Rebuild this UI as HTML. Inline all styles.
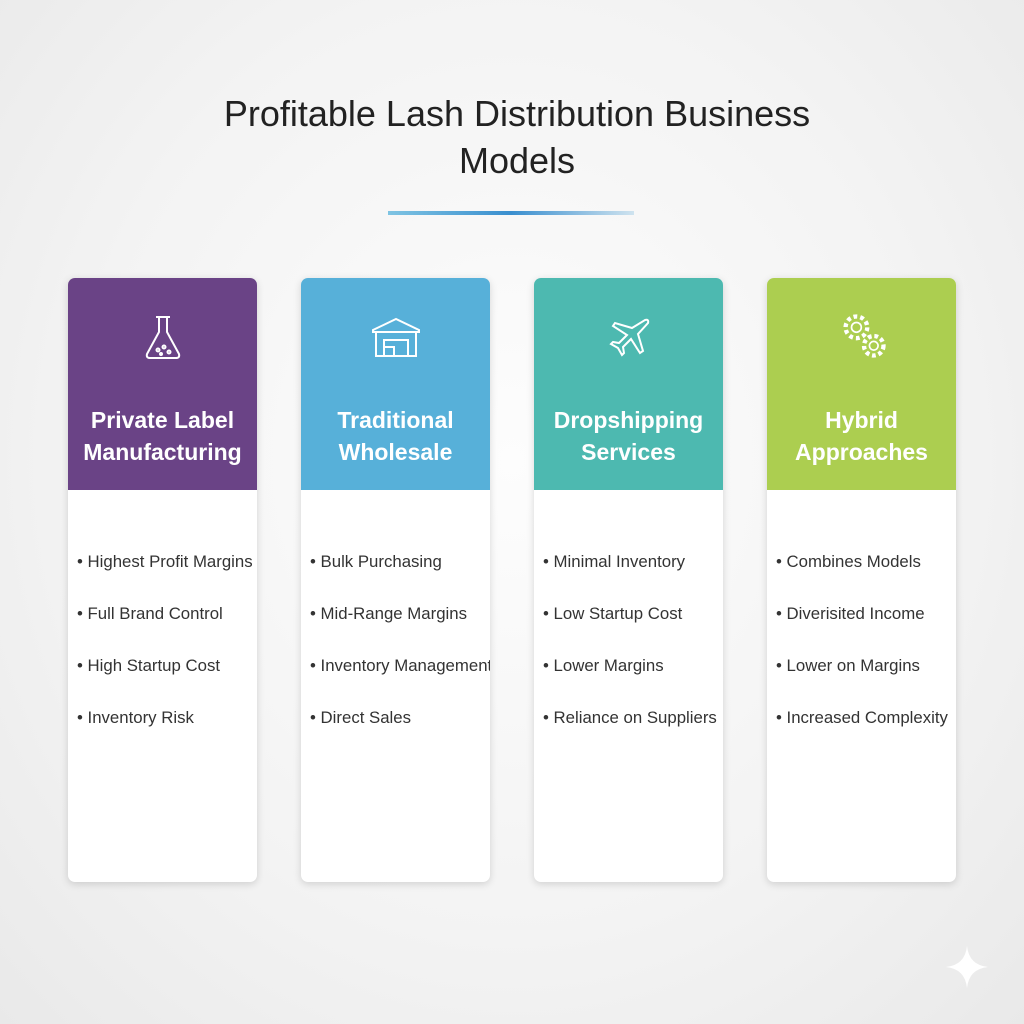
<!DOCTYPE html>
<html><head><meta charset="utf-8"><style>
body{margin:0;width:1024px;height:1024px;background:radial-gradient(ellipse at 50% 45%,#fdfdfd 0%,#f3f3f3 60%,#e9e9e9 100%);font-family:"Liberation Sans","DejaVu Sans",sans-serif;position:relative;overflow:hidden}
h1{position:absolute;top:90px;left:0;width:1034px;margin:0;text-align:center;font-weight:normal;font-size:36px;line-height:47px;color:#222}
.line{position:absolute;top:211px;left:388px;width:246px;height:4px;background:linear-gradient(90deg,#7fc4e3,#3a8fcf 50%,#cfe3ef)}
.card{position:absolute;top:278px;width:189px;height:604px;background:#fff;border-radius:7px;box-shadow:0 2px 8px rgba(0,0,0,.15);overflow:hidden}
.hd{height:212px;position:relative;color:#fff}
.hd svg{position:absolute;left:50%;top:36px;margin-left:-24px}
.hd .t{position:absolute;top:126px;width:100%;text-align:center;font-size:23px;line-height:32px;font-weight:bold}
ul{list-style:none;margin:0;padding:0;position:absolute;top:273px;left:9px;white-space:nowrap}
li{font-size:16.8px;color:#333;height:52px;line-height:22px}
li:before{content:"• ";}
</style></head><body>
<h1>Profitable Lash Distribution Business<br>Models</h1>
<div class="line"></div>

<div class="card" style="left:68px"><div class="hd" style="background:#6a4386">
<svg width="48" height="48" viewBox="0 0 48 48" fill="none" stroke="#fff" stroke-width="2"><path d="M17 3h14M20 3v15L8 40q-1 4 3 4h26q4 0 3-4L28 18V3"/><circle cx="19" cy="36" r="1.5"/><circle cx="25" cy="33" r="1.5"/><circle cx="30" cy="38" r="1.5"/><circle cx="22" cy="40" r="1"/></svg>
<div class="t">Private Label<br>Manufacturing</div></div>
<ul><li>Highest Profit Margins</li><li>Full Brand Control</li><li>High Startup Cost</li><li>Inventory Risk</li></ul></div>

<div class="card" style="left:301px"><div class="hd" style="background:#57b0d9">
<svg width="48" height="48" viewBox="0 0 48 48" fill="none" stroke="#fff" stroke-width="2"><path d="M1 16L24 5l23 11v2H1z"/><path d="M4 18v24h40V18M12 42V26h24v16M12 33h10v9"/></svg>
<div class="t">Traditional<br>Wholesale</div></div>
<ul><li>Bulk Purchasing</li><li>Mid-Range Margins</li><li>Inventory Management</li><li>Direct Sales</li></ul></div>

<div class="card" style="left:534px"><div class="hd" style="background:#4db9b0">
<svg width="48" height="48" viewBox="0 0 48 48" fill="none" stroke="#fff" stroke-width="2"><path d="M40 6q4-1 3 3L33 20l5 17-3 2-9-14-8 8 1 6-2 2-4-7-7-4 2-2 6 1 8-8-14-9 2-3 17 5z"/></svg>
<div class="t">Dropshipping<br>Services</div></div>
<ul><li>Minimal Inventory</li><li>Low Startup Cost</li><li>Lower Margins</li><li>Reliance on Suppliers</li></ul></div>

<div class="card" style="left:767px"><div class="hd" style="background:#acce50">
<svg width="52" height="52" viewBox="0 0 48 48" fill="none" stroke="#fff" stroke-width="1.6" style="top:32px"><circle cx="17" cy="16" r="10" stroke-dasharray="3.5 2.8" stroke-width="4"/><circle cx="17" cy="16" r="4.5"/><circle cx="33" cy="33" r="9" stroke-dasharray="3.5 2.6" stroke-width="4"/><circle cx="33" cy="33" r="4"/></svg>
<div class="t">Hybrid<br>Approaches</div></div>
<ul><li>Combines Models</li><li>Diverisited Income</li><li>Lower on Margins</li><li>Increased Complexity</li></ul></div>

<svg style="position:absolute;left:944px;top:944px" width="46" height="46" viewBox="0 0 46 46"><path d="M23 2Q25 21 44 23Q25 25 23 44Q21 25 2 23Q21 21 23 2z" fill="#fff"/></svg>
</body></html>
